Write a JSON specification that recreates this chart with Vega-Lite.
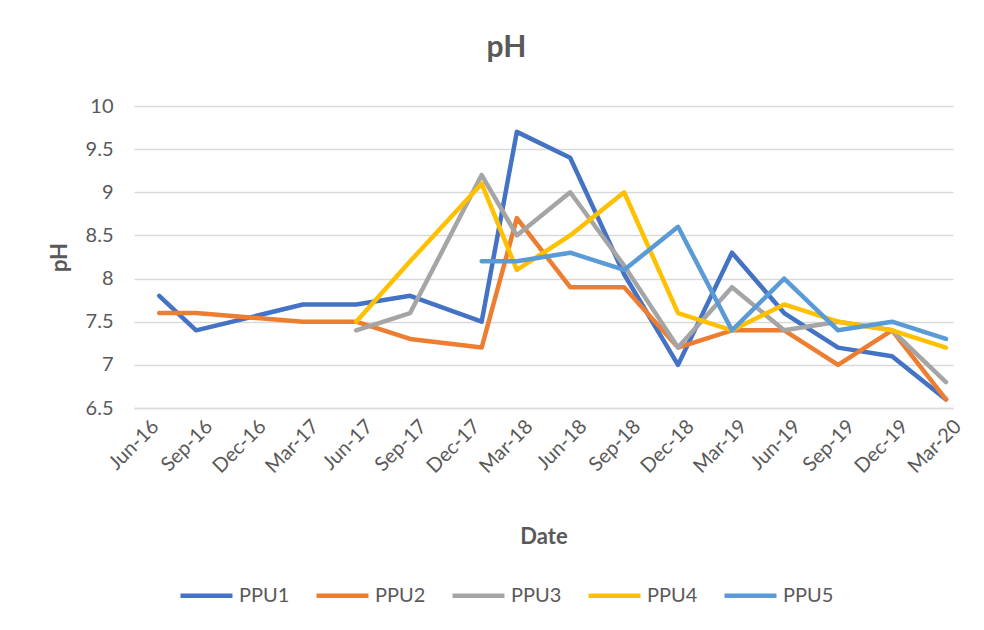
{
  "$schema": "https://vega.github.io/schema/vega-lite/v6.json",
  "width": 819,
  "height": 302,
  "autosize": "none",
  "padding": {"left": 134, "top": 106, "right": 31, "bottom": 222},
  "background": "white",
  "title": {"text": "pH", "font": "Lato", "fontSize": 30, "fontWeight": "bold", "color": "#595959", "anchor": "middle", "frame": "bounds", "offset": 33},
  "config": {
    "view": {"stroke": null},
    "font": "Lato",
    "axis": {"labelFont": "Lato", "titleFont": "Lato", "labelColor": "#595959", "titleColor": "#595959", "labelFontSize": 20, "titleFontSize": 22, "titleFontWeight": "bold", "gridColor": "#D9D9D9", "gridWidth": 1.5, "ticks": false}
  },
  "data": {
    "values": [
      {"date": "2016/06/20", "series": "PPU1", "ph": 7.8},
      {"date": "2016/08/22", "series": "PPU1", "ph": 7.4},
      {"date": "2016/11/22", "series": "PPU1", "ph": 7.55},
      {"date": "2017/02/20", "series": "PPU1", "ph": 7.7},
      {"date": "2017/05/22", "series": "PPU1", "ph": 7.7},
      {"date": "2017/08/22", "series": "PPU1", "ph": 7.8},
      {"date": "2017/12/22", "series": "PPU1", "ph": 7.5},
      {"date": "2018/02/20", "series": "PPU1", "ph": 9.7},
      {"date": "2018/05/22", "series": "PPU1", "ph": 9.4},
      {"date": "2018/08/22", "series": "PPU1", "ph": 8.05},
      {"date": "2018/11/22", "series": "PPU1", "ph": 7.0},
      {"date": "2019/02/22", "series": "PPU1", "ph": 8.3},
      {"date": "2019/05/22", "series": "PPU1", "ph": 7.6},
      {"date": "2019/08/22", "series": "PPU1", "ph": 7.2},
      {"date": "2019/11/22", "series": "PPU1", "ph": 7.1},
      {"date": "2020/02/22", "series": "PPU1", "ph": 6.6},
      {"date": "2016/06/20", "series": "PPU2", "ph": 7.6},
      {"date": "2016/08/22", "series": "PPU2", "ph": 7.6},
      {"date": "2016/11/22", "series": "PPU2", "ph": 7.55},
      {"date": "2017/02/20", "series": "PPU2", "ph": 7.5},
      {"date": "2017/05/22", "series": "PPU2", "ph": 7.5},
      {"date": "2017/08/22", "series": "PPU2", "ph": 7.3},
      {"date": "2017/12/22", "series": "PPU2", "ph": 7.2},
      {"date": "2018/02/20", "series": "PPU2", "ph": 8.7},
      {"date": "2018/05/22", "series": "PPU2", "ph": 7.9},
      {"date": "2018/08/22", "series": "PPU2", "ph": 7.9},
      {"date": "2018/11/22", "series": "PPU2", "ph": 7.2},
      {"date": "2019/02/22", "series": "PPU2", "ph": 7.4},
      {"date": "2019/05/22", "series": "PPU2", "ph": 7.4},
      {"date": "2019/08/22", "series": "PPU2", "ph": 7.0},
      {"date": "2019/11/22", "series": "PPU2", "ph": 7.4},
      {"date": "2020/02/22", "series": "PPU2", "ph": 6.6},
      {"date": "2017/05/22", "series": "PPU3", "ph": 7.4},
      {"date": "2017/08/22", "series": "PPU3", "ph": 7.6},
      {"date": "2017/12/22", "series": "PPU3", "ph": 9.2},
      {"date": "2018/02/20", "series": "PPU3", "ph": 8.5},
      {"date": "2018/05/22", "series": "PPU3", "ph": 9.0},
      {"date": "2018/08/22", "series": "PPU3", "ph": 8.15},
      {"date": "2018/11/22", "series": "PPU3", "ph": 7.2},
      {"date": "2019/02/22", "series": "PPU3", "ph": 7.9},
      {"date": "2019/05/22", "series": "PPU3", "ph": 7.4},
      {"date": "2019/08/22", "series": "PPU3", "ph": 7.5},
      {"date": "2019/11/22", "series": "PPU3", "ph": 7.4},
      {"date": "2020/02/22", "series": "PPU3", "ph": 6.8},
      {"date": "2017/05/22", "series": "PPU4", "ph": 7.5},
      {"date": "2017/08/22", "series": "PPU4", "ph": 8.2},
      {"date": "2017/12/22", "series": "PPU4", "ph": 9.1},
      {"date": "2018/02/20", "series": "PPU4", "ph": 8.1},
      {"date": "2018/05/22", "series": "PPU4", "ph": 8.5},
      {"date": "2018/08/22", "series": "PPU4", "ph": 9.0},
      {"date": "2018/11/22", "series": "PPU4", "ph": 7.6},
      {"date": "2019/02/22", "series": "PPU4", "ph": 7.4},
      {"date": "2019/05/22", "series": "PPU4", "ph": 7.7},
      {"date": "2019/08/22", "series": "PPU4", "ph": 7.5},
      {"date": "2019/11/22", "series": "PPU4", "ph": 7.4},
      {"date": "2020/02/22", "series": "PPU4", "ph": 7.2},
      {"date": "2017/12/22", "series": "PPU5", "ph": 8.2},
      {"date": "2018/02/20", "series": "PPU5", "ph": 8.2},
      {"date": "2018/05/22", "series": "PPU5", "ph": 8.3},
      {"date": "2018/08/22", "series": "PPU5", "ph": 8.1},
      {"date": "2018/11/22", "series": "PPU5", "ph": 8.6},
      {"date": "2019/02/22", "series": "PPU5", "ph": 7.4},
      {"date": "2019/05/22", "series": "PPU5", "ph": 8.0},
      {"date": "2019/08/22", "series": "PPU5", "ph": 7.4},
      {"date": "2019/11/22", "series": "PPU5", "ph": 7.5},
      {"date": "2020/02/22", "series": "PPU5", "ph": 7.3}
    ]
  },
  "mark": {"type": "line", "strokeWidth": 4.5, "strokeCap": "round", "strokeJoin": "round"},
  "encoding": {
    "x": {
      "field": "date", "type": "temporal",
      "scale": {"domain": [{"year": 2016, "month": 5, "date": 8}, {"year": 2020, "month": 3, "date": 5}], "nice": false},
      "axis": {
        "title": "Date",
        "format": "%b-%y",
        "labelAngle": -45,
        "labelPadding": 8,
        "titlePadding": 50,
        "grid": false,
        "domain": true,
        "domainColor": "#D9D9D9",
        "domainWidth": 1.5,
        "labelOverlap": false,
        "values": [
          {"year": 2016, "month": 6, "date": 1}, {"year": 2016, "month": 9, "date": 1}, {"year": 2016, "month": 12, "date": 1},
          {"year": 2017, "month": 3, "date": 1}, {"year": 2017, "month": 6, "date": 1}, {"year": 2017, "month": 9, "date": 1}, {"year": 2017, "month": 12, "date": 1},
          {"year": 2018, "month": 3, "date": 1}, {"year": 2018, "month": 6, "date": 1}, {"year": 2018, "month": 9, "date": 1}, {"year": 2018, "month": 12, "date": 1},
          {"year": 2019, "month": 3, "date": 1}, {"year": 2019, "month": 6, "date": 1}, {"year": 2019, "month": 9, "date": 1}, {"year": 2019, "month": 12, "date": 1},
          {"year": 2020, "month": 3, "date": 1}
        ]
      }
    },
    "y": {
      "field": "ph", "type": "quantitative",
      "scale": {"domain": [6.5, 10], "nice": false, "zero": false},
      "axis": {"title": "pH", "format": ".1~f", "values": [6.5, 7, 7.5, 8, 8.5, 9, 9.5, 10], "domain": false, "grid": true, "labelPadding": 21, "titlePadding": 14}
    },
    "color": {
      "field": "series", "type": "nominal",
      "scale": {"domain": ["PPU1", "PPU2", "PPU3", "PPU4", "PPU5"], "range": ["#4472C4", "#ED7D31", "#A5A5A5", "#FFC000", "#5B9BD5"]},
      "legend": {
        "title": null,
        "orient": "none",
        "direction": "horizontal",
        "legendX": 44,
        "legendY": 461,
        "symbolType": "stroke",
        "symbolSize": 2700,
        "symbolStrokeWidth": 4.5,
        "labelFont": "Lato",
        "labelFontSize": 20,
        "labelColor": "#595959",
        "labelOffset": 4,
        "columnPadding": 17
      }
    }
  }
}
